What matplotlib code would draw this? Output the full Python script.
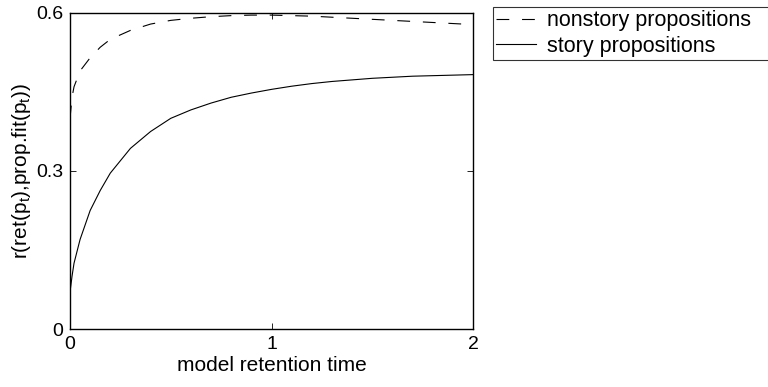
import matplotlib
matplotlib.use("Agg")
import matplotlib.pyplot as plt

t = [0, 0.01, 0.02, 0.05, 0.1, 0.15, 0.2, 0.3, 0.4, 0.5, 0.6, 0.7, 0.8, 0.9, 1.0,
     1.1, 1.2, 1.3, 1.4, 1.5, 1.6, 1.7, 1.8, 1.9, 2.0]
story = [0.07, 0.10, 0.125, 0.17, 0.225, 0.263, 0.296, 0.343, 0.375, 0.40, 0.416,
         0.429, 0.440, 0.448, 0.455, 0.461, 0.466, 0.470, 0.473, 0.476, 0.478,
         0.480, 0.481, 0.482, 0.483]
nonstory = [0.40, 0.44, 0.46, 0.49, 0.515, 0.535, 0.55, 0.567, 0.579, 0.586, 0.590,
            0.593, 0.595, 0.596, 0.596, 0.595, 0.594, 0.592, 0.590, 0.588, 0.586,
            0.584, 0.582, 0.580, 0.578]
xticks = [0, 1, 2]
yticks = [0, 0.3, 0.6]
yticklabels = ["0", "0.3", "0.6"]

plt.rcParams['font.family'] = ['Liberation Sans', 'DejaVu Sans']
plt.rcParams['mathtext.fontset'] = 'custom'
plt.rcParams['mathtext.rm'] = 'Liberation Sans'
plt.rcParams['mathtext.it'] = 'Liberation Sans'
fig = plt.figure(figsize=(7.68, 3.87), dpi=100)
ax = fig.add_axes([70/768, 58/387, 403/768, 316/387])
ax.plot(t, nonstory, color='black', lw=0.8, linestyle=(0, (11.5, 11.5)), label='nonstory propositions')
ax.plot(t, story, color='black', lw=0.8, linestyle='-', label='story propositions')
ax.set_xlim(0, 2)
ax.set_ylim(0, 0.6)
ax.set_xticks(xticks)
ax.set_xticklabels([str(v) for v in xticks])
ax.set_yticks(yticks)
ax.set_yticklabels(yticklabels)
ax.tick_params(direction='in', length=4, width=0.6, labelsize=14, top=True, right=True,
               labeltop=False, labelright=False, pad=5)
for s in ax.spines.values():
    s.set_linewidth(1.0)
ax.set_xlabel('model retention time', fontsize=15, labelpad=2)
ax.set_ylabel(r'r(ret(p$_\mathrm{t}$),prop.fit(p$_\mathrm{t}$))', fontsize=15, labelpad=2)
leg = ax.legend(loc='upper left', bbox_to_anchor=(493/768, 1 - 58/387, 285/768, 51/387),
                bbox_transform=fig.transFigure, mode='expand',
                fontsize=15.5, frameon=True, fancybox=False, borderpad=0.15, labelspacing=0.2,
                handlelength=1.85, handletextpad=0.5, borderaxespad=0)
leg.get_frame().set_edgecolor('black')
leg.get_frame().set_linewidth(0.8)
fig.savefig('out.png', dpi=100)
